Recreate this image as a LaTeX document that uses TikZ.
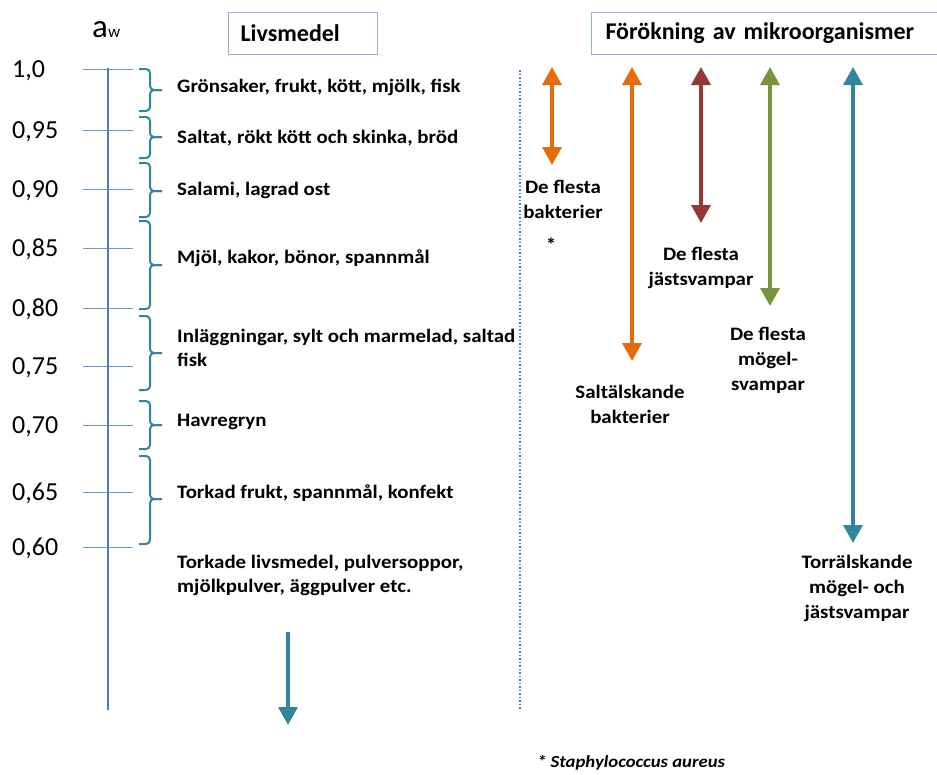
\documentclass[tikz,border=0pt]{standalone}
\usepackage{fontspec}
\setmainfont{Carlito}
\newfontfamily\widefont{Carlito}[FakeStretch=1.1]
\usetikzlibrary{arrows.meta, positioning}

\definecolor{axisblue}{HTML}{4A7EBB}
\definecolor{boxblue}{HTML}{95B3D7}
\definecolor{braceteal}{HTML}{31859C}
\definecolor{saltorange}{HTML}{E46C0A}
\definecolor{jastred}{HTML}{953735}
\definecolor{mogelgreen}{HTML}{77933C}

\begin{document}
\begin{tikzpicture}[x=1pt,y=-1pt,>={Triangle[width=19pt,length=18pt]},
  food/.style={anchor=west, inner sep=0pt, align=left, font=\widefont\fontsize{19}{24}\selectfont\bfseries},
  microbe/.style={inner sep=0pt, align=center, font=\widefont\fontsize{19}{25}\selectfont\bfseries},
  headbox/.style={draw=boxblue, line width=1pt, anchor=north west, minimum height=42pt,
                  inner xsep=12pt, align=left, font=\fontsize{24}{28}\selectfont\bfseries},
  scalelabel/.style={anchor=base west, inner sep=0pt, font=\fontsize{26}{30}\selectfont},
  bracket/.style={braceteal, line width=2pt, rounded corners=4pt},
  rangearrow/.style={line width=3.5pt}]
  \useasboundingbox (0,0) rectangle (937,774);
  \clip (0,0) rectangle (937,774);

% define the headings
  \node (aw) [anchor=base west, inner sep=0pt] at (92,37)
        {\fontsize{33}{34}\selectfont a\fontsize{17}{18}\selectfont w};
  \node[headbox, text width=125pt] (livs) at (228,12) {Livsmedel};
  \node[headbox, text width=330pt, inner xsep=14pt] (forok) at (591,12) {Förökning av mikroorganismer};

% define the aw scale
  \coordinate (axtop) at (108,68);
  \coordinate (axbot) at (108,710);
  \foreach \lab/\y [count=\i] in {{1,0}/69, {0,95}/130, {0,90}/189, {0,85}/248, {0,80}/308,
                                 {0,75}/366, {0,70}/425, {0,65}/492, {0,60}/547} {
    \draw[axisblue!80, line width=1pt] (83,\y) -- (133,\y);
    \node[scalelabel] (v\i) at (12,\y+8) {\lab};
  }
  \draw[axisblue, line width=2pt] (axtop) -- (axbot);

% define the braces and the foods
  \foreach \top/\tip/\bot in {69/90/111, 117/137/158, 163/191/217, 221/265/309,
                              316/353/390, 401/425/449, 456/499/544} {
    \draw[bracket] (139,\top) -- (150,\top) -- (150,\tip) -- (162,\tip);
    \draw[bracket] (139,\bot) -- (150,\bot) -- (150,\tip) -- (162,\tip);
  }

  \node[food] (f1) at (177,87)  {Grönsaker, frukt, kött, mjölk, fisk};
  \node[food] (f2) at (177,138) {Saltat, rökt kött och skinka, bröd};
  \node[food] (f3) at (177,190) {Salami, lagrad ost};
  \node[food] (f4) at (177,258) {Mjöl, kakor, bönor, spannmål};
  \node[food] (f5) at (177,348) {Inläggningar, sylt och marmelad, saltad\\fisk};
  \node[food] (f6) at (177,422) {Havregryn};
  \node[food] (f7) at (177,493) {Torkad frukt, spannmål, konfekt};
  \node[food] (f8) at (177,575) {Torkade livsmedel, pulversoppor,\\mjölkpulver, äggpulver etc.};

  \coordinate (drytop) at (288,632);
  \coordinate (drybot) at (288,725);
  \draw[->, braceteal, rangearrow] (drytop) -- (drybot);

% define the microbe ranges
  \coordinate (divtop) at (520,70);
  \coordinate (divbot) at (520,710);
  \draw[axisblue, line width=1.5pt, dotted] (divtop) -- (divbot);

  \coordinate (baktop)  at (552,67);  \coordinate (bakbot)  at (552,165);
  \coordinate (salttop) at (632,67);  \coordinate (saltbot) at (632,361);
  \coordinate (jasttop) at (701,67);  \coordinate (jastbot) at (701,223);
  \coordinate (mogtop)  at (770,67);  \coordinate (mogbot)  at (770,306);
  \coordinate (torrtop) at (853,67);  \coordinate (torrbot) at (853,543);

  \draw[<->, saltorange, rangearrow] (baktop)  -- (bakbot);
  \draw[<->, saltorange, rangearrow] (salttop) -- (saltbot);
  \draw[<->, jastred, rangearrow]    (jasttop) -- (jastbot);
  \draw[<->, mogelgreen, rangearrow] (mogtop)  -- (mogbot);
  \draw[<->, braceteal, rangearrow]  (torrtop) -- (torrbot);

  \node[microbe] (bak)  [below=15pt of bakbot, xshift=11pt] {De flesta\\bakterier};
  \node[microbe] (star) at (551,245) {*};
  \node[microbe] (salt) [below=24pt of saltbot, xshift=-2pt] {Saltälskande\\bakterier};
  \node[microbe] (jast) [below=24pt of jastbot] {De flesta\\jästsvampar};
  \node[microbe] (mog)  [below=21pt of mogbot, xshift=-2pt] {De flesta\\mögel-\\svampar};
  \node[microbe] (torr) [below=12pt of torrbot, xshift=4pt] {Torrälskande\\mögel- och\\jästsvampar};

  \node (staph) [anchor=west, inner sep=0pt, font=\widefont\fontsize{17}{20}\selectfont\bfseries\itshape]
        at (537,763) {* Staphylococcus aureus};
\end{tikzpicture}
\end{document}
